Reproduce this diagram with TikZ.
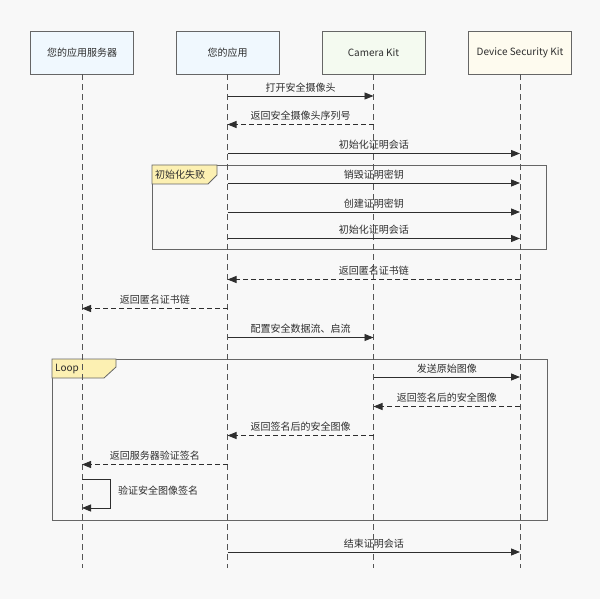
\documentclass[tikz,border=0pt]{standalone}
\usepackage{fontspec}
\setmainfont{Noto Sans CJK SC}
\usetikzlibrary{arrows.meta}
\definecolor{bg}{HTML}{F8F8F8}
\definecolor{blueF}{HTML}{F0F8FE}
\definecolor{greenF}{HTML}{F4FAF0}
\definecolor{yelF}{HTML}{FEFBEF}
\definecolor{tabF}{HTML}{FCF0B2}
\definecolor{edge}{HTML}{666666}
\definecolor{ink}{HTML}{2E2E2E}
\definecolor{lifec}{HTML}{555555}
\begin{document}
\begin{tikzpicture}[x=1pt,y=-1pt,
  hdr/.style={draw=edge, line width=0.9pt, minimum width=103pt, minimum height=43pt, inner sep=0pt, text=ink, font=\fontsize{10}{12}\selectfont},
  life/.style={draw=lifec, line width=0.7pt, dash pattern=on 6pt off 4pt},
  msg/.style={draw=ink, line width=0.8pt, -{Triangle[length=9pt,width=7pt]}},
  ret/.style={msg, dash pattern=on 5pt off 3pt},
  lbl/.style={above, inner sep=1.5pt, text=ink, font=\fontsize{10}{12}\selectfont, yshift=2pt},
  frame/.style={draw=edge, line width=0.8pt},
  tab/.style={draw=edge, line width=0.8pt, fill=tabF},
  tabtxt/.style={anchor=west, inner sep=0pt, text=ink, font=\fontsize{10}{12}\selectfont}
]
\fill[bg] (0,0) rectangle (600,599);
\useasboundingbox (0,0) rectangle (600,599);

% headers
\node[hdr, fill=blueF] (srv) at (82,52.5) {您的应用服务器};
\node[hdr, fill=blueF] (app) at (227.5,52.5) {您的应用};
\node[hdr, fill=greenF] (cam) at (373.5,52.5) {Camera Kit};
\node[hdr, fill=yelF] (dsk) at (520,52.5) {Device Security Kit};

% frames
\draw[frame] (152,165) rectangle (546,249);
\draw[tab] (152,165) -- (217,165) -- (217,175) -- (208,184) -- (152,184) -- cycle;
\node[tabtxt] (ftxt1) at (155,174.5) {初始化失败};
\draw[frame] (52,359) rectangle (547,520);
\draw[tab] (52,359) -- (116,359) -- (116,367) -- (104,378) -- (52,378) -- cycle;
\node[tabtxt] (ftxt2) at (55,368.5) {Loop};

% lifelines
\coordinate (srvE) at (srv.south |- 0,568);
\coordinate (appE) at (app.south |- 0,568);
\coordinate (camE) at (cam.south |- 0,568);
\coordinate (dskE) at (dsk.south |- 0,568);
\draw[life] (srv.south) -- (srvE);
\draw[life] (app.south) -- (appE);
\draw[life] (cam.south) -- (camE);
\draw[life] (dsk.south) -- (dskE);

% messages
\draw[msg] (app |- 0,96) -- node[lbl]{打开安全摄像头} (cam |- 0,96);
\draw[ret] (cam |- 0,124.5) -- node[lbl]{返回安全摄像头序列号} (app |- 0,124.5);
\draw[msg] (app |- 0,153.5) -- node[lbl]{初始化证明会话} (dsk |- 0,153.5);
\draw[msg] (app |- 0,183) -- node[lbl]{销毁证明密钥} (dsk |- 0,183);
\draw[msg] (app |- 0,212) -- node[lbl]{创建证明密钥} (dsk |- 0,212);
\draw[msg] (app |- 0,238.5) -- node[lbl]{初始化证明会话} (dsk |- 0,238.5);
\draw[ret] (dsk |- 0,279.5) -- node[lbl]{返回匿名证书链} (app |- 0,279.5);
\draw[ret] (app |- 0,308.5) -- node[lbl]{返回匿名证书链} (srv |- 0,308.5);
\draw[msg] (app |- 0,337.5) -- node[lbl]{配置安全数据流、启流} (cam |- 0,337.5);
\draw[msg] (cam |- 0,377) -- node[lbl]{发送原始图像} (dsk |- 0,377);
\draw[ret] (dsk |- 0,406.5) -- node[lbl]{返回签名后的安全图像} (cam |- 0,406.5);
\draw[ret] (cam |- 0,435.5) -- node[lbl]{返回签名后的安全图像} (app |- 0,435.5);
\draw[ret] (app |- 0,464.5) -- node[lbl]{返回服务器验证签名} (srv |- 0,464.5);
\coordinate (selfA) at (srv |- 0,479);
\coordinate (selfB) at (srv |- 0,508);
\draw[msg] (selfA) -- (110.5,479) -- (110.5,508) -- (selfB);
\node[anchor=west, inner sep=0pt, text=ink, font=\fontsize{10}{12}\selectfont] (selflbl) at (118,491) {验证安全图像签名};
\draw[msg] (app |- 0,552) -- node[lbl]{结束证明会话} (dsk |- 0,552);
\end{tikzpicture}
\end{document}
